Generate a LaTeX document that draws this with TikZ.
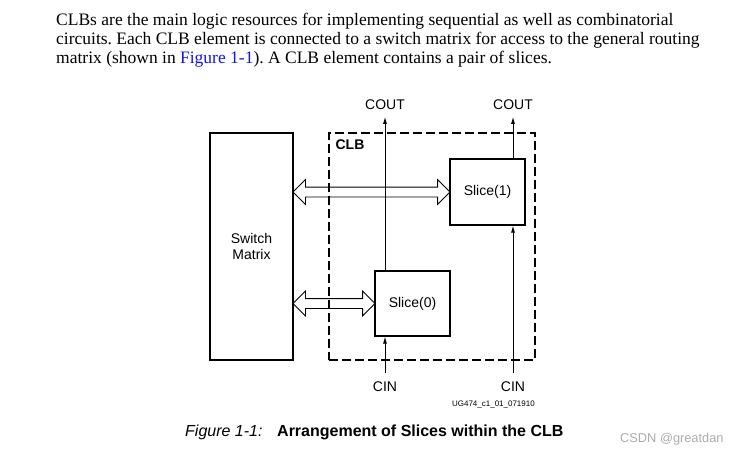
\documentclass[tikz,border=0pt]{standalone}
\usepackage{fontspec}
\setmainfont{Liberation Serif}
\setsansfont{Liberation Sans}
\usetikzlibrary{shapes, shapes.arrows, arrows.meta, calc, positioning}
\definecolor{linkblue}{RGB}{20,20,235}
\frenchspacing
\tikzset{
    blk/.style = {draw, line width=1.2pt, inner sep=0pt, align=center}, % solid boxes: switch matrix and slices
    clb/.style = {draw, dash pattern=on 9pt off 4pt, line width=1.2pt, inner sep=0pt}, % the dashed CLB frame
    pinlbl/.style = {font=\sffamily\fontsize{14}{16}\selectfont, inner sep=0pt}, % COUT / CIN
    sig/.style = {-{Latex[length=7pt,width=4pt]}, line width=0.8pt}, % carry lines
    bus/.style = {double arrow, draw, line width=0.8pt, inner xsep=0pt, inner ysep=4.5pt,
                  double arrow head extend=7.5pt, minimum width=0pt} % hollow two way arrows
}
\begin{document}
\begin{tikzpicture}
  [
    x=1pt, y=-1pt,
    every node/.style={font=\sffamily\fontsize{14}{16.5}\selectfont}
  ]
  \useasboundingbox (0,0) rectangle (740,455);
  % text above the figure
  \node [anchor=north west, align=left, inner sep=0pt,
         font=\rmfamily\fontsize{17.5}{18.8}\selectfont] (intro) at (56,13.2)
    {CLBs are the main logic resources for implementing sequential as well as combinatorial\\
     circuits. Each CLB element is connected to a switch matrix for access to the general routing\\
     matrix (shown in \textcolor{linkblue}{Figure 1-1}). A CLB element contains a pair of slices.};
  % boxes
  \node [blk, minimum width=83pt, minimum height=227pt] (sw) at (251.5,246.5) {Switch\\Matrix};
  \node [clb, minimum width=206pt, minimum height=227pt] (clbbox) at (432,246.5) {};
  \node [blk, minimum width=75pt, minimum height=66pt] (s1) at (487.5,192) {Slice(1)};
  \node [blk, minimum width=75pt, minimum height=65pt] (s0) at (412.5,303.5) {Slice(0)};
  \node [font=\sffamily\bfseries\fontsize{14}{16}\selectfont, anchor=north west, inner sep=0pt]
    (clblbl) at ($(clbbox.north west)+(7,7)$) {CLB};
  % carry in and out
  \node [pinlbl] (cout0) at (385,104.3) {COUT};
  \node [pinlbl] (cout1) at (513,104.3) {COUT};
  \node [pinlbl] (cin0) at (385,386.7) {CIN};
  \node [pinlbl] (cin1) at (513,386.7) {CIN};
  \draw [sig, shorten >=7.5pt] (s0.north -| cout0) -- (cout0.south);
  \draw [sig, shorten <=8.5pt] (cin0.north) -- (s0.south -| cin0);
  \draw [sig, shorten >=7.5pt] (s1.north -| cout1) -- (cout1.south);
  \draw [sig, shorten <=8.5pt] (cin1.north) -- (s1.south -| cin1);
  % switch matrix to slices
  \node [bus, minimum height=157pt] (bus1) at ($(sw.east |- s1.west)!0.5!(s1.west)$) {};
  \node [bus, minimum height=82pt] (bus0) at ($(sw.east |- s0.west)!0.5!(s0.west)$) {};
  \node [anchor=base east, inner sep=0pt, font=\sffamily\fontsize{8}{9}\selectfont]
    (ugid) at (535,406) {UG474\_c1\_01\_071910};
  % caption
  \node [anchor=base west, inner sep=0pt, font=\sffamily\itshape\fontsize{16}{18}\selectfont]
    (figno) at (185,436.5) {Figure 1-1:};
  \node [anchor=base west, inner sep=0pt, font=\sffamily\bfseries\fontsize{16}{18}\selectfont]
    (figtitle) at (277,436.5) {Arrangement of Slices within the CLB};
  \node [anchor=base west, inner sep=0pt, text=gray!65, font=\sffamily\fontsize{12.8}{14}\selectfont]
    (mark) at (620,442.5) {CSDN @greatdan};
\end{tikzpicture}
\end{document}
